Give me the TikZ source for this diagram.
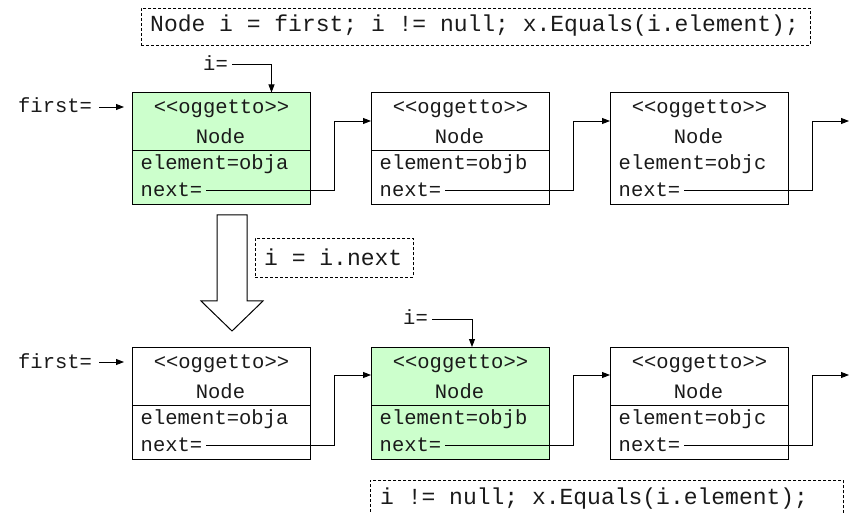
\documentclass[tikz,border=0pt]{standalone}
\usepackage{fontspec}
\setmonofont{Liberation Mono}
\usetikzlibrary{arrows.meta,calc}
\definecolor{objgreen}{HTML}{CCFFCC}
\definecolor{ink}{HTML}{1A1A1A}

% One object of the linked list: name, top-left corner, box style,
% element value, separator line (1) or not (0)
\newcommand\drawobj[5]{%
  \node[#3] (#1) at #2 {};
  \node[ctxt] (#1-s) at ($(#1.north)+(0,21)$) {<\kern0pt<oggetto>\kern0pt>};
  \node[ctxt] (#1-c) at ($(#1.north)+(-1,51)$) {Node};
  \ifnum#5=1 \draw[line width=1bp] ($(#1.north west)+(0,58)$) -- ($(#1.north east)+(0,58)$);\fi
  \node[txt] (#1-e) at ($(#1.north west)+(8.5,77.5)$) {element=#4};
  \node[ptrlbl] (#1-n) at ($(#1.north west)+(8.5,104)$) {next=};
}

\begin{document}
\begin{tikzpicture}[x=1bp,y=-1bp,
  every node/.style={font=\ttfamily\fontsize{20.5bp}{24bp}\selectfont, inner sep=0pt, text=ink},
  obj/.style={draw, line width=1bp, minimum width=178bp, minimum height=112bp,
              anchor=north west, fill=white},
  cur/.style={obj, fill=objgreen},
  txt/.style={anchor=base west},
  ctxt/.style={anchor=base},
  ptrlbl/.style={anchor=base west, text height=12bp, text depth=0pt},
  code/.style={font=\ttfamily\fontsize{23bp}{27bp}\selectfont, anchor=base west},
  frame/.style={draw, dash pattern=on 3bp off 2bp, line width=0.8bp, anchor=north west},
  ptr/.style={line width=0.9bp, -{Triangle[length=8bp,width=6bp]}},
  link/.style={ptr, shorten <=4bp}
]
\useasboundingbox (0,0) rectangle (853,513);
\clip (0,0) rectangle (853,513);

% ---- first state: i points to the first object ----
\node[frame, minimum width=669bp, minimum height=37bp] (f1) at (141,8) {};
\node[code] (c1) at (150,32) {Node i = first; i != null; x.Equals(i.element);};

\drawobj{a1}{(132,92.5)}{cur}{obja}{1}
\drawobj{a2}{(371,92.5)}{obj}{objb}{1}
\drawobj{a3}{(610,92.5)}{obj}{objc}{0}

\node[ptrlbl] (fa) at (18,113) {first=};
\draw[ptr, shorten <=7bp, shorten >=8bp] (fa.east) -- (fa.east -| a1.west);

\node[ptrlbl] (ia) at (203,70.5) {i=};
\draw[ptr, shorten <=4bp] (ia.east) -| ($(a1.north)+(50,0)$);

\coordinate (ta1) at ($(a1.east)+(23,0)$);
\coordinate (ta2) at ($(a2.east)+(23,0)$);
\coordinate (ta3) at ($(a3.east)+(23,0)$);
\coordinate (a3-out) at ($(a3.north east)+(60,28.5)$);
\draw[link] (a1-n.east) -- (a1-n.east -| ta1) |- ($(a2.north west)+(0,28.5)$);
\draw[link] (a2-n.east) -- (a2-n.east -| ta2) |- ($(a3.north west)+(0,28.5)$);
\draw[link] (a3-n.east) -- (a3-n.east -| ta3) |- (a3-out);

% ---- step: i = i.next ----
\draw[line width=1bp, fill=white]
  (217,215) -- (247,215) -- (247,301) -- (263,301) -- (232,331)
  -- (201,301) -- (217,301) -- cycle;
\node[frame, minimum width=158bp, minimum height=39bp] (f2) at (255,238) {};
\node[code] (c2) at (264,265.5) {i = i.next};

% ---- second state: i points to the second object ----
\drawobj{b1}{(132,347)}{obj}{obja}{1}
\drawobj{b2}{(371,347)}{cur}{objb}{1}
\drawobj{b3}{(610,347)}{obj}{objc}{1}

\node[ptrlbl] (fb) at (18,368) {first=};
\draw[ptr, shorten <=7bp, shorten >=8bp] (fb.east) -- (fb.east -| b1.west);

\node[ptrlbl] (ib) at (403,325) {i=};
\draw[ptr, shorten <=4bp] (ib.east) -| ($(b2.north)+(11.5,0)$);

\coordinate (tb1) at ($(b1.east)+(23,0)$);
\coordinate (tb2) at ($(b2.east)+(23,0)$);
\coordinate (tb3) at ($(b3.east)+(23,0)$);
\coordinate (b3-out) at ($(b3.north east)+(60,28)$);
\draw[link] (b1-n.east) -- (b1-n.east -| tb1) |- ($(b2.north west)+(0,28)$);
\draw[link] (b2-n.east) -- (b2-n.east -| tb2) |- ($(b3.north west)+(0,28)$);
\draw[link] (b3-n.east) -- (b3-n.east -| tb3) |- (b3-out);

\node[frame, minimum width=473bp, minimum height=50bp] (f3) at (370,480) {};
\node[code] (c3) at (380,504) {i != null; x.Equals(i.element);};
\end{tikzpicture}
\end{document}
